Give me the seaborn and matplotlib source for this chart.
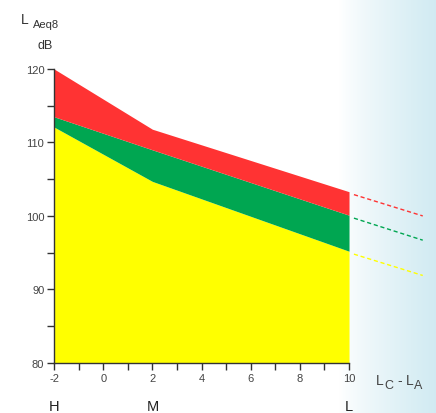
import numpy as np
import matplotlib
matplotlib.use("Agg")
import matplotlib.pyplot as plt
import seaborn as sns

sns.set_style("ticks")
plt.rcParams['font.family'] = ['Liberation Sans', 'DejaVu Sans']
plt.rcParams['axes.unicode_minus'] = False

# levels
x_pts = [-2, 2, 10]
yellow_top = [112.1, 104.7, 95.2]
green_top = [113.5, 109.0, 100.1]
red_top = [120.0, 111.8, 103.3]

# dashed extrapolation past 10
ext_x = [10.2, 13.0]
ext_red = [102.9, 100.0]
ext_green = [99.7, 96.7]
ext_yellow = [94.8, 91.9]

x_ticks = [-2, 0, 2, 4, 6, 8, 10]
y_ticks = [80, 90, 100, 110, 120]
class_labels = ["H", "M", "L"]
class_pos = [-2, 2, 10]

c_red = "#ff3333"
c_green = "#00a651"
c_yellow = "#ffff00"

fig = plt.figure(figsize=(4.36, 4.14), dpi=100)

# light blue gradient background on the right
bg = fig.add_axes([0, 0, 1, 1], zorder=0)
grad = np.linspace(0, 1, 256)
grad = np.clip((grad - 0.78) / 0.22, 0, 1) ** 0.8
img = np.ones((1, 256, 3))
target = np.array([0.82, 0.92, 0.95])
img[0] = 1 - grad[:, None] * (1 - target)
bg.imshow(img, aspect="auto", extent=[0, 1, 0, 1])
bg.axis("off")

ax = fig.add_axes([0.124, 0.121, 0.902, 0.710], zorder=1)
ax.patch.set_alpha(0)

ax.fill_between(x_pts, 80, yellow_top, color=c_yellow, lw=0)
ax.fill_between(x_pts, yellow_top, green_top, color=c_green, lw=0)
ax.fill_between(x_pts, green_top, red_top, color=c_red, lw=0)

sns.lineplot(x=ext_x, y=ext_red, ax=ax, color=c_red, lw=1, linestyle=(0, (3, 2)))
sns.lineplot(x=ext_x, y=ext_green, ax=ax, color=c_green, lw=1, linestyle=(0, (3, 2)))
sns.lineplot(x=ext_x, y=ext_yellow, ax=ax, color=c_yellow, lw=1, linestyle=(0, (3, 2)))

ax.set_xlim(-2, 14)
ax.set_ylim(80, 120)
ax.spines['top'].set_visible(False)
ax.spines['right'].set_visible(False)
for s in ['left', 'bottom']:
    ax.spines[s].set_color("#333333")
    ax.spines[s].set_linewidth(1)
ax.spines['bottom'].set_bounds(-2, 10)
ax.spines['left'].set_bounds(80, 120)

ax.set_xticks(x_ticks)
ax.set_xticks(range(-2, 11), minor=True)
ax.set_yticks(y_ticks)
ax.set_yticks(range(80, 121, 5), minor=True)
ax.tick_params(axis='both', which='both', direction='out', color="#333333",
               width=1, labelsize=8, labelcolor="#444444",
               bottom=True, left=True, top=False, right=False)
ax.tick_params(axis='both', which='major', length=5)
ax.tick_params(axis='both', which='minor', length=5)
ax.tick_params(axis='x', pad=2)
ax.tick_params(axis='y', pad=2)

fig.text(0.048, 0.942, "L", fontsize=10, color="#333333")
fig.text(0.075, 0.932, "Aeq8", fontsize=8, color="#333333")
fig.text(0.085, 0.882, "dB", fontsize=9, color="#333333")

ax.text(11.1, 78.6, "L", fontsize=10, color="#444444", va="top")
ax.text(11.45, 77.8, "C", fontsize=9, color="#444444", va="top")
ax.text(11.95, 78.6, "-", fontsize=10, color="#444444", va="top")
ax.text(12.3, 78.6, "L", fontsize=10, color="#444444", va="top")
ax.text(12.65, 77.8, "A", fontsize=9, color="#444444", va="top")

for lab, p in zip(class_labels, class_pos):
    ax.text(p, 75.1, lab, fontsize=10.5, color="#222222", ha="center", va="top")

fig.savefig("out.png", dpi=100)
